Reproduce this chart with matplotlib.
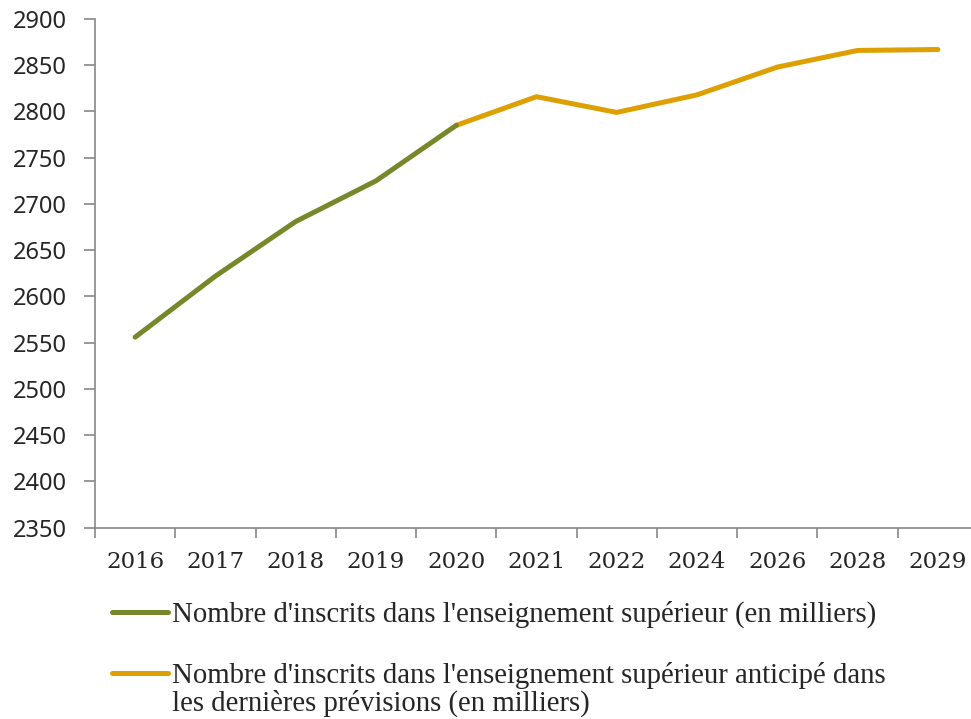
import matplotlib
matplotlib.use("Agg")
import matplotlib.pyplot as plt
from matplotlib.lines import Line2D
import numpy as np

years = ["2016", "2017", "2018", "2019", "2020", "2021", "2022", "2024", "2026", "2028", "2029"]
observed = [2556, 2622, 2681, 2725, 2785]
forecast = [2785, 2816, 2799, 2818, 2848, 2866, 2867]
label_obs = "Nombre d'inscrits dans l'enseignement supérieur (en milliers)"
label_fc = "Nombre d'inscrits dans l'enseignement supérieur anticipé dans\nles dernières prévisions (en milliers)"
yticks = list(range(2350, 2901, 50))

green = "#76882A"
orange = "#DDA000"
axis_grey = "#888888"
text_col = "#262626"

W, H = 971, 719
fig = plt.figure(figsize=(W / 100, H / 100), dpi=100)
left, right, top, bottom = 95, 978, 19, 527.7
ax = fig.add_axes([left / W, 1 - bottom / H, (right - left) / W, (bottom - top) / H])

x = np.arange(len(years))
x_obs = x[:len(observed)]
x_fc = x[len(observed) - 1:len(observed) - 1 + len(forecast)]
ax.plot(x_obs, observed, color=green, lw=3.6, solid_capstyle="round", zorder=3)
ax.plot(x_fc, forecast, color=orange, lw=3.6, solid_capstyle="round", zorder=2)

ax.set_xlim(-0.5, len(years) - 0.5)
ax.set_ylim(2350, 2900)
ax.set_yticks(yticks)
ax.set_yticklabels([str(v) for v in yticks], fontsize=17, family="Noto Sans", color=text_col)
ax.set_xticks(np.arange(len(years) + 1) - 0.5)
ax.set_xticklabels([])
ax.set_xticks(x, minor=True)
ax.set_xticklabels(years, minor=True, fontsize=16.5, family="DejaVu Serif", color=text_col)
ax.tick_params(axis="x", which="minor", length=0, pad=17)
ax.tick_params(axis="x", which="major", length=7, width=1.2, color=axis_grey, direction="out")
ax.tick_params(axis="y", length=8, width=1.2, color=axis_grey, direction="out", pad=12)

for s in ["top", "right"]:
    ax.spines[s].set_visible(False)
for s in ["left", "bottom"]:
    ax.spines[s].set_color(axis_grey)
    ax.spines[s].set_linewidth(1.2)

# legend drawn below the plot
def legend_entry(y_px, color, text):
    fig.add_artist(Line2D([112 / W, 168 / W], [1 - y_px / H, 1 - y_px / H],
                          color=color, lw=3.6, solid_capstyle="round",
                          transform=fig.transFigure))
    fig.text(172 / W, 1 - (y_px - 11) / H, text, fontsize=20.7, family="Liberation Serif",
             va="top", ha="left", color=text_col, linespacing=1.05)

legend_entry(612, green, label_obs)
legend_entry(673, orange, label_fc)

fig.savefig("out.png", dpi=100)
